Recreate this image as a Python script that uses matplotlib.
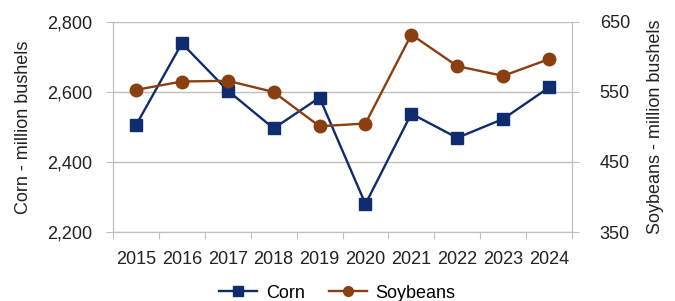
import matplotlib.pyplot as plt
import numpy as np
from matplotlib.lines import Line2D

plt.rcParams['font.family'] = ['Liberation Sans', 'DejaVu Sans']

years = ['2015', '2016', '2017', '2018', '2019', '2020', '2021', '2022', '2023', '2024']
corn = [2505, 2739, 2604, 2496, 2584, 2280, 2538, 2469, 2523, 2613]
soybeans = [553, 565, 566, 550, 501, 505, 632, 587, 573, 597]

corn_color = '#0F2D6E'
soy_color = '#8B3F10'
grid_color = '#BFBFBF'
fs = 13

fig = plt.figure(figsize=(6.75, 3.01), dpi=100)
ax = fig.add_axes([113/675, 1-232/301, (572-113)/675, (232-22)/301])
ax2 = ax.twinx()

x = np.arange(len(years))

ax.plot(x, corn, color=corn_color, lw=1.7, marker='s', ms=9, zorder=3)
ax2.plot(x, soybeans, color=soy_color, lw=1.7, marker='o', ms=9, zorder=3)

ax.set_xlim(-0.5, len(years)-0.5)
ax.set_ylim(2200, 2800)
ax.set_yticks([2200, 2400, 2600, 2800])
ax.set_yticklabels(['{:,}'.format(v) for v in [2200, 2400, 2600, 2800]])
ax2.set_ylim(350, 650)
ax2.set_yticks([350, 450, 550, 650])

ax.yaxis.grid(True, color=grid_color, lw=1)
ax.set_axisbelow(True)

# category ticks between years, labels centered
ax.set_xticks(np.arange(-0.5, len(years), 1.0))
ax.set_xticklabels([])
ax.set_xticks(x, minor=True)
ax.set_xticklabels(years, minor=True, fontsize=fs, color='#222222')
ax.tick_params(axis='x', which='major', length=5, color=grid_color)
ax.tick_params(axis='x', which='minor', length=0, pad=14)

ax.tick_params(axis='y', length=5, color=grid_color, labelsize=fs, pad=10, labelcolor='#222222')
ax2.tick_params(axis='y', length=5, color=grid_color, labelsize=fs, pad=15, labelcolor='#222222')

for a in (ax, ax2):
    a.spines['top'].set_visible(False)
    for s in ('left', 'right', 'bottom'):
        a.spines[s].set_color(grid_color)

ax.set_ylabel('Corn - million bushels', fontsize=fs, color='#222222', labelpad=11)
ax2.set_ylabel('Soybeans - million bushels', fontsize=fs, color='#222222', labelpad=12)

handles = [Line2D([], [], color=corn_color, lw=1.7, marker='s', ms=7),
           Line2D([], [], color=soy_color, lw=1.7, marker='o', ms=7)]
fig.legend(handles, ['Corn', 'Soybeans'], loc='center', bbox_to_anchor=(0.5, 1-293/301),
           ncol=2, frameon=False, fontsize=fs, handlelength=2.1, columnspacing=1.3,
           handletextpad=0.5)

fig.savefig('out.png', dpi=100)
